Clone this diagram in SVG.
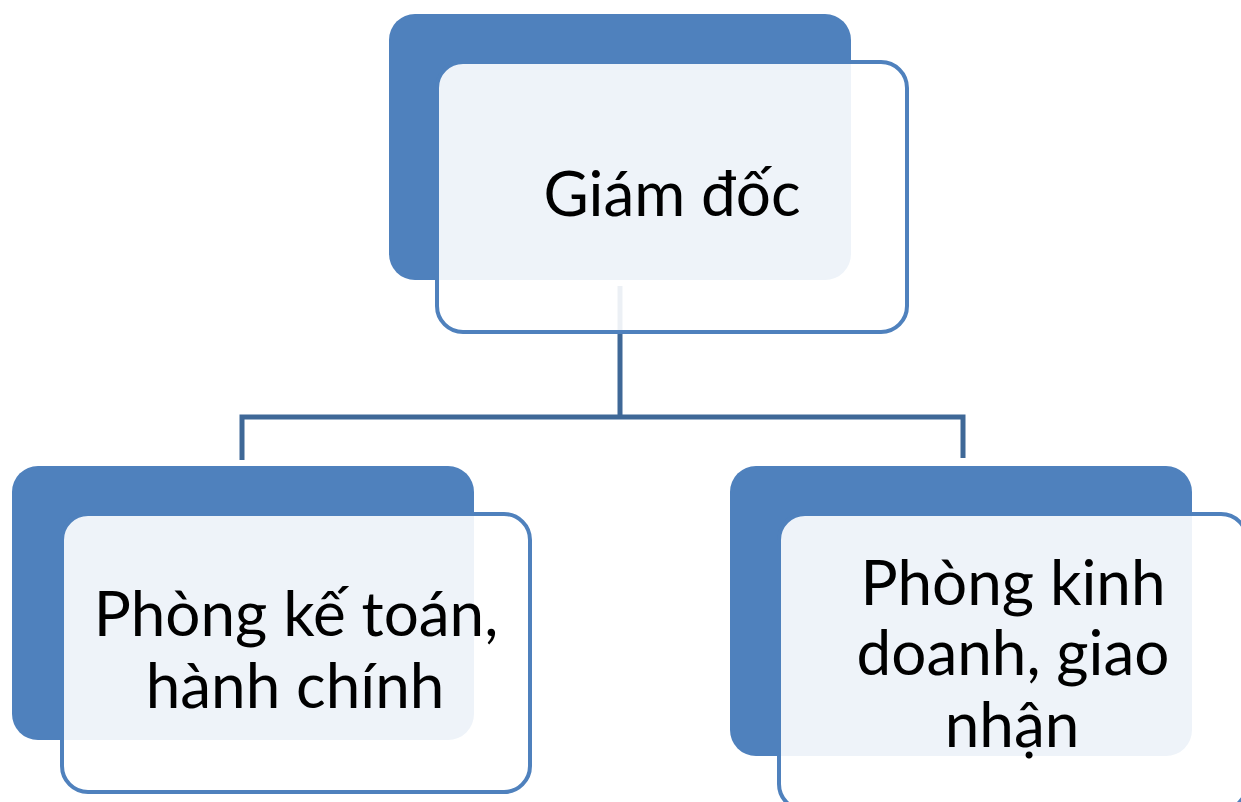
<svg xmlns="http://www.w3.org/2000/svg" width="1241" height="802" viewBox="0 0 1241 802">
  <style>
    .back { fill: #4F81BD; }
    .front { fill: #FFFFFF; fill-opacity: 0.9; stroke: #4F81BD; stroke-width: 4; }
    .label { font-family: Lato, "Open Sans", sans-serif; font-size: 62px; fill: #000000; text-anchor: middle; }
    .link { fill: none; stroke: #3F6897; stroke-width: 5; stroke-linejoin: miter; }
  </style>
  <rect width="1241" height="802" fill="#FFFFFF"/>

  <!-- back panels -->
  <g id="node-giam-doc-back">
    <rect class="back" x="389" y="14" width="462" height="266" rx="26"/>
  </g>
  <g id="node-ke-toan-back">
    <rect class="back" x="12" y="466" width="462" height="274" rx="26"/>
  </g>
  <g id="node-kinh-doanh-back">
    <rect class="back" x="730" y="466" width="462" height="290" rx="26"/>
  </g>

  <!-- connectors -->
  <g id="connectors">
    <path class="link" d="M620 286 V417"/>
    <path class="link" d="M242 460 V417 H963 V458"/>
  </g>

  <!-- front panels with labels -->
  <g id="node-giam-doc">
    <rect class="front" x="437" y="62" width="470" height="270" rx="26"/>
    <text class="label" x="672" y="216">Giám đốc</text>
  </g>
  <g id="node-ke-toan">
    <rect class="front" x="62" y="514" width="468" height="278" rx="26"/>
    <text class="label" x="296" y="636">Phòng kế toán,</text>
    <text class="label" x="295" y="708">hành chính</text>
  </g>
  <g id="node-kinh-doanh">
    <rect class="front" x="779" y="514" width="468" height="296" rx="26"/>
    <text class="label" x="1013" y="605">Phòng kinh</text>
    <text class="label" x="1013" y="675">doanh, giao</text>
    <text class="label" x="1012" y="747">nhận</text>
  </g>
</svg>
